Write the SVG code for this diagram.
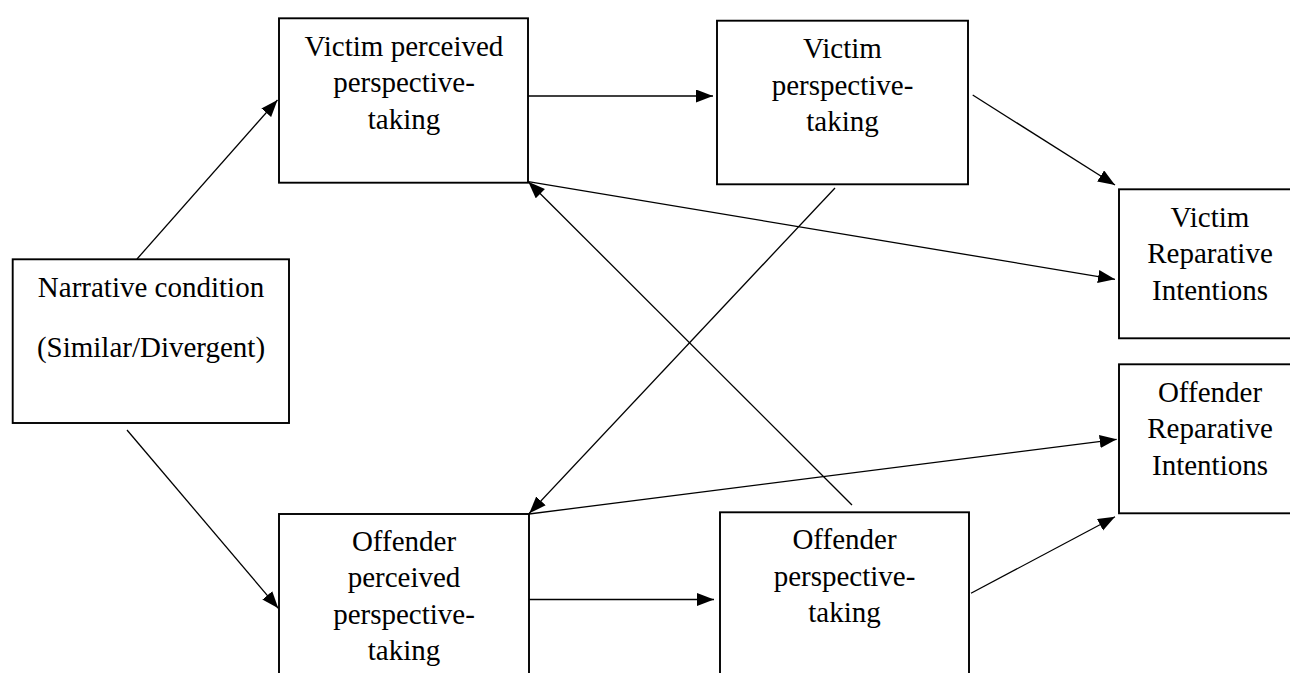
<svg xmlns="http://www.w3.org/2000/svg" width="1290" height="673" viewBox="0 0 1290 673">
<style>
.box{fill:#fff;stroke:#000;stroke-width:1.9}
.t{font-family:"Liberation Serif","Times New Roman",serif;font-size:29px;fill:#000;text-anchor:middle}
.c{stroke:#000;stroke-width:1.3;fill:none;marker-end:url(#ah)}
</style>
<defs>
<marker id="ah" markerUnits="userSpaceOnUse" markerWidth="18" markerHeight="14" refX="17" refY="6.5" orient="auto">
<path d="M0,0 L17,6.5 L0,13 z" fill="#000"/>
</marker>
</defs>
<rect width="1290" height="673" fill="#fff"/>
<g id="narrative">
<rect class="box" x="12.7" y="259.3" width="276.3" height="163.7"/>
<text class="t" x="151" y="297">Narrative condition</text>
<text class="t" x="151" y="357">(Similar/Divergent)</text>
</g>
<g id="victim-perceived">
<rect class="box" x="279" y="18.3" width="249" height="164.4"/>
<text class="t" x="404" y="55.5">Victim perceived</text>
<text class="t" x="404" y="92">perspective-</text>
<text class="t" x="404" y="128.5">taking</text>
</g>
<g id="victim-perspective">
<rect class="box" x="717" y="20.7" width="251" height="163.6"/>
<text class="t" x="842.5" y="58">Victim</text>
<text class="t" x="842.5" y="94.5">perspective-</text>
<text class="t" x="842.5" y="131">taking</text>
</g>
<g id="victim-reparative">
<rect class="box" x="1119" y="189.3" width="182" height="149"/>
<text class="t" x="1210" y="226.5">Victim</text>
<text class="t" x="1210" y="263">Reparative</text>
<text class="t" x="1210" y="299.5">Intentions</text>
</g>
<g id="offender-reparative">
<rect class="box" x="1119" y="364.3" width="182" height="149"/>
<text class="t" x="1210" y="401.5">Offender</text>
<text class="t" x="1210" y="438">Reparative</text>
<text class="t" x="1210" y="474.5">Intentions</text>
</g>
<g id="offender-perceived">
<rect class="box" x="279" y="514" width="250" height="180"/>
<text class="t" x="404" y="550.5">Offender</text>
<text class="t" x="404" y="587">perceived</text>
<text class="t" x="404" y="623.5">perspective-</text>
<text class="t" x="404" y="660">taking</text>
</g>
<g id="offender-perspective">
<rect class="box" x="720" y="512.3" width="249" height="180"/>
<text class="t" x="844.5" y="549">Offender</text>
<text class="t" x="844.5" y="585.5">perspective-</text>
<text class="t" x="844.5" y="622">taking</text>
</g>
<g id="connectors">
<line class="c" x1="137" y1="259" x2="277.5" y2="100"/>
<line class="c" x1="127" y1="430" x2="278.3" y2="608.3"/>
<line class="c" x1="528" y1="96" x2="713" y2="96"/>
<line class="c" x1="529" y1="599.5" x2="714" y2="599.5"/>
<line class="c" x1="972.7" y1="95" x2="1115" y2="185"/>
<line class="c" x1="971" y1="593.3" x2="1115" y2="516.7"/>
<line class="c" x1="528.3" y1="181.7" x2="1115" y2="279.3"/>
<line class="c" x1="852" y1="505" x2="528.3" y2="181.7"/>
<line class="c" x1="835" y1="188" x2="529.3" y2="513.3"/>
<line class="c" x1="529" y1="514" x2="1116.7" y2="439.3"/>
</g>
</svg>
